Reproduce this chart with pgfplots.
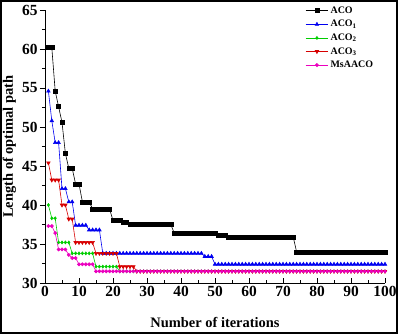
\documentclass[border=0pt]{standalone}
\usepackage{pgfplots}
\pgfplotsset{compat=1.18}
\usepackage{pgfplotstable}
\usepackage{fontspec}
\setmainfont{Liberation Serif}
\definecolor{cACO}{RGB}{0,0,0}
\definecolor{cA1}{RGB}{0,0,240}
\definecolor{cA2}{RGB}{0,205,0}
\definecolor{cA3}{RGB}{215,0,0}
\definecolor{cMs}{RGB}{235,0,190}
\pgfplotstableread{
i aco a1 a2 a3 ms
1 60.2 54.6 40.0 45.4 37.3
2 60.2 50.8 38.3 43.2 37.3
3 54.6 48.0 38.3 43.2 36.4
4 52.6 48.0 35.2 43.2 34.3
5 50.6 42.1 35.2 40.0 34.3
6 46.6 42.1 35.2 40.0 34.3
7 44.7 40.4 35.2 38.2 33.6
8 44.7 40.4 33.8 38.2 33.2
9 42.7 37.4 33.8 35.2 33.2
10 42.7 37.4 33.8 35.2 32.4
11 40.4 37.4 33.8 35.2 32.4
12 40.4 37.4 33.8 35.2 32.4
13 40.4 36.8 33.8 35.2 32.4
14 39.5 36.8 33.8 35.2 32.4
15 39.5 36.8 32.1 33.8 31.5
16 39.5 36.8 32.1 33.8 31.5
17 39.5 33.8 32.1 33.8 31.5
18 39.5 33.8 32.1 33.8 31.5
19 39.5 33.8 32.1 33.8 31.5
20 38.0 33.8 32.1 33.8 31.5
21 38.0 33.8 32.1 33.8 31.5
22 38.0 33.8 31.5 32.1 31.5
23 37.8 33.8 31.5 32.1 31.5
24 37.8 33.8 31.5 32.1 31.5
25 37.5 33.8 31.5 32.1 31.5
26 37.5 33.8 31.5 32.1 31.5
27 37.5 33.8 31.5 31.5 31.5
28 37.5 33.8 31.5 31.5 31.5
29 37.5 33.8 31.5 31.5 31.5
30 37.5 33.8 31.5 31.5 31.5
31 37.5 33.8 31.5 31.5 31.5
32 37.5 33.8 31.5 31.5 31.5
33 37.5 33.8 31.5 31.5 31.5
34 37.5 33.8 31.5 31.5 31.5
35 37.5 33.8 31.5 31.5 31.5
36 37.5 33.8 31.5 31.5 31.5
37 37.5 33.8 31.5 31.5 31.5
38 36.4 33.8 31.5 31.5 31.5
39 36.4 33.8 31.5 31.5 31.5
40 36.4 33.8 31.5 31.5 31.5
41 36.4 33.8 31.5 31.5 31.5
42 36.4 33.8 31.5 31.5 31.5
43 36.4 33.8 31.5 31.5 31.5
44 36.4 33.8 31.5 31.5 31.5
45 36.4 33.8 31.5 31.5 31.5
46 36.4 33.8 31.5 31.5 31.5
47 36.4 33.4 31.5 31.5 31.5
48 36.4 33.4 31.5 31.5 31.5
49 36.4 33.4 31.5 31.5 31.5
50 36.4 32.4 31.5 31.5 31.5
51 36.1 32.4 31.5 31.5 31.5
52 36.1 32.4 31.5 31.5 31.5
53 36.1 32.4 31.5 31.5 31.5
54 35.9 32.4 31.5 31.5 31.5
55 35.9 32.4 31.5 31.5 31.5
56 35.9 32.4 31.5 31.5 31.5
57 35.9 32.4 31.5 31.5 31.5
58 35.9 32.4 31.5 31.5 31.5
59 35.9 32.4 31.5 31.5 31.5
60 35.9 32.4 31.5 31.5 31.5
61 35.9 32.4 31.5 31.5 31.5
62 35.9 32.4 31.5 31.5 31.5
63 35.9 32.4 31.5 31.5 31.5
64 35.9 32.4 31.5 31.5 31.5
65 35.9 32.4 31.5 31.5 31.5
66 35.9 32.4 31.5 31.5 31.5
67 35.9 32.4 31.5 31.5 31.5
68 35.9 32.4 31.5 31.5 31.5
69 35.9 32.4 31.5 31.5 31.5
70 35.9 32.4 31.5 31.5 31.5
71 35.9 32.4 31.5 31.5 31.5
72 35.9 32.4 31.5 31.5 31.5
73 35.9 32.4 31.5 31.5 31.5
74 34.0 32.4 31.5 31.5 31.5
75 34.0 32.4 31.5 31.5 31.5
76 34.0 32.4 31.5 31.5 31.5
77 34.0 32.4 31.5 31.5 31.5
78 34.0 32.4 31.5 31.5 31.5
79 34.0 32.4 31.5 31.5 31.5
80 34.0 32.4 31.5 31.5 31.5
81 34.0 32.4 31.5 31.5 31.5
82 34.0 32.4 31.5 31.5 31.5
83 34.0 32.4 31.5 31.5 31.5
84 34.0 32.4 31.5 31.5 31.5
85 34.0 32.4 31.5 31.5 31.5
86 34.0 32.4 31.5 31.5 31.5
87 34.0 32.4 31.5 31.5 31.5
88 34.0 32.4 31.5 31.5 31.5
89 34.0 32.4 31.5 31.5 31.5
90 34.0 32.4 31.5 31.5 31.5
91 34.0 32.4 31.5 31.5 31.5
92 34.0 32.4 31.5 31.5 31.5
93 34.0 32.4 31.5 31.5 31.5
94 34.0 32.4 31.5 31.5 31.5
95 34.0 32.4 31.5 31.5 31.5
96 34.0 32.4 31.5 31.5 31.5
97 34.0 32.4 31.5 31.5 31.5
98 34.0 32.4 31.5 31.5 31.5
99 34.0 32.4 31.5 31.5 31.5
100 34.0 32.4 31.5 31.5 31.5
}\datatable
\begin{document}
\begin{tikzpicture}
\begin{axis}[
  at={(45bp,51bp)}, anchor=south west,
  scale only axis, width=340bp, height=273bp,
  xmin=0, xmax=100, ymin=30, ymax=65,
  xtick={0,10,...,100}, ytick={30,35,...,65},
  minor x tick num=1, minor y tick num=1,
  axis x line*=bottom, axis y line*=left,
  xtick align=inside, ytick align=outside,
  major tick length=5bp, minor tick length=3bp,
  tick style={black, line width=0.6bp},
  axis line style={line width=0.8bp},
  /pgf/number format/assume math mode=true,
  ticklabel style={font=\bfseries\fontsize{15.5}{16}\selectfont},
  xticklabel style={yshift=0.5bp},
  yticklabel style={xshift=1bp},
  every axis x label/.style={at={(axis description cs:0.5,-0.1465)},anchor=center},
  every axis y label/.style={at={(axis description cs:-0.105,0.5)},rotate=90,anchor=center},
  label style={font=\bfseries\fontsize{14.5}{15}\selectfont},
  xlabel={Number of iterations},
  ylabel={Length of optimal path},
  legend style={at={(0.765,1.02)}, anchor=north west, draw=none, fill=none,
    font=\bfseries\fontsize{10}{12}\selectfont, row sep=1.5bp, inner sep=0pt},
  legend cell align=left,
  legend image code/.code={\draw[mark repeat=2,mark phase=2] plot coordinates {(0cm,0cm) (0.4cm,0cm) (0.8cm,0cm)};},
  every axis plot/.append style={line width=0.6bp},
]
\addplot[cACO, mark=square*, mark size=2bp] table[x=i,y=aco] {\datatable};
\addlegendentry{ACO}
\addplot[cA1, mark=triangle*, mark size=2bp] table[x=i,y=a1] {\datatable};
\addlegendentry{ACO\textsubscript{1}}
\addplot[cA2, mark=diamond*, mark size=1.5bp] table[x=i,y=a2] {\datatable};
\addlegendentry{ACO\textsubscript{2}}
\addplot[cA3, mark=triangle*, mark size=2bp, every mark/.append style={rotate=180}] table[x=i,y=a3] {\datatable};
\addlegendentry{ACO\textsubscript{3}}
\addplot[cMs, mark=*, mark size=1.6bp] table[x=i,y=ms] {\datatable};
\addlegendentry{MsAACO}
\end{axis}
\pgfresetboundingbox
\useasboundingbox (0,0) rectangle (398bp,334bp);
\draw[line width=1.6bp] (0.8bp,0.8bp) rectangle (397.2bp,333.2bp);
\end{tikzpicture}
\end{document}
